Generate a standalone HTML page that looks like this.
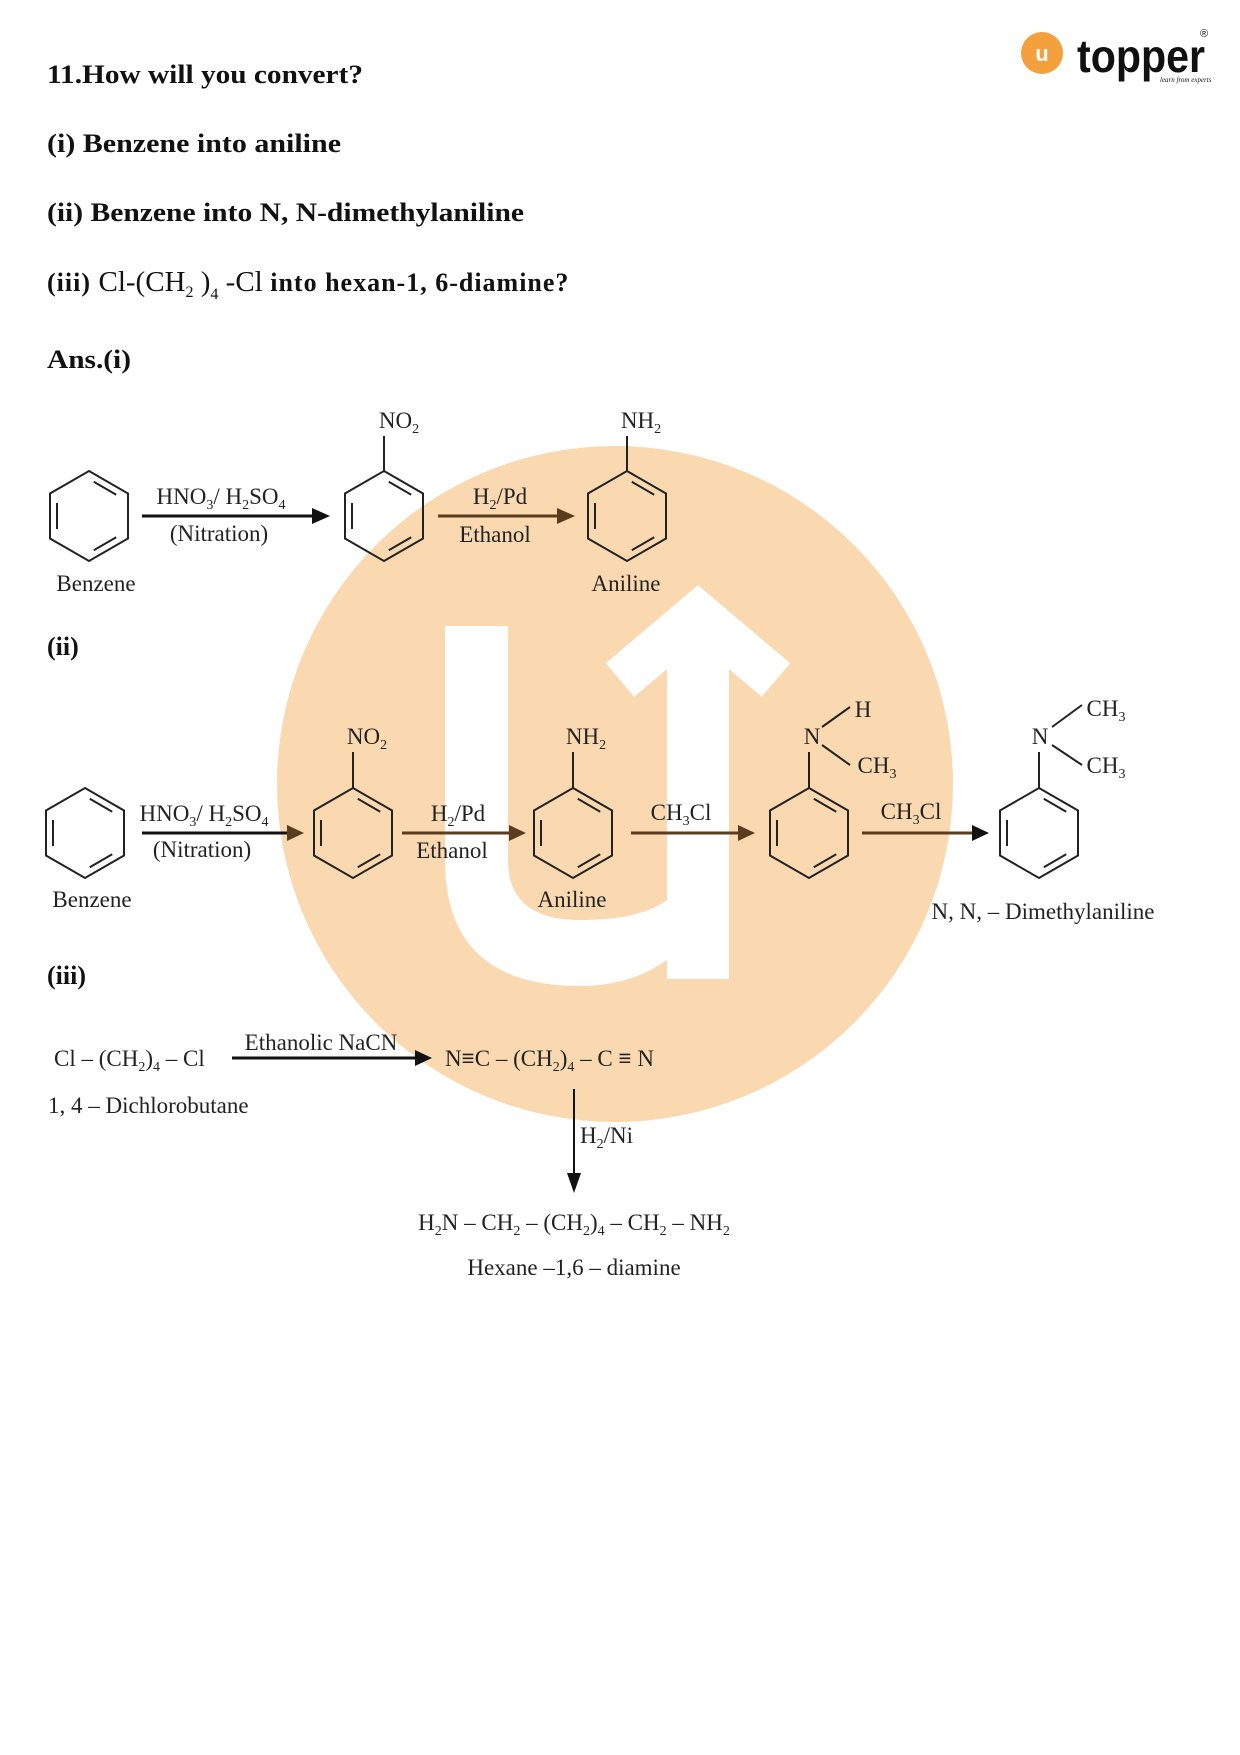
<!DOCTYPE html>
<html><head><meta charset="utf-8"><style>
html,body{margin:0;padding:0;background:#fff;}
svg{display:block;}
.h{font-family:"Liberation Serif",serif;font-weight:bold;font-size:26px;fill:#111;}
.t{font-family:"Liberation Serif",serif;font-size:23px;fill:#222;}
</style></head><body>
<svg width="1240" height="1755" viewBox="0 0 1240 1755" xmlns="http://www.w3.org/2000/svg">
<defs>
<g id="ring" fill="none" stroke="#222" stroke-width="2">
<polygon points="0,-45 39,-22.5 39,22.5 0,45 -39,22.5 -39,-22.5"/>
<line x1="4.8" y1="-34.2" x2="27.2" y2="-21.3"/>
<line x1="27.2" y1="21.3" x2="4.8" y2="34.2"/>
<line x1="-32" y1="13" x2="-32" y2="-13"/>
</g>
</defs>
<circle cx="615" cy="784" r="338" fill="#fad9b0"/>
<path d="M445 626 H508 V860 Q508 920 580 920 Q640 920 667 900 V640 H729 V979 H667 V960 Q630 986 580 986 Q445 986 445 860 Z" fill="#fff"/>
<polyline points="620,680 698,614 776,680" fill="none" stroke="#fff" stroke-width="44" stroke-linejoin="miter"/>
<circle cx="1042" cy="53" r="21" fill="#f4a13d"/>
<text x="1042" y="61" font-family="Liberation Sans,sans-serif" font-weight="bold" font-size="22" fill="#fff" text-anchor="middle">u</text>
<text x="1077" y="72" font-family="Liberation Sans,sans-serif" font-weight="bold" font-size="46" fill="#111" textLength="128" lengthAdjust="spacingAndGlyphs">topper</text>
<text x="1200" y="37" font-family="Liberation Sans,sans-serif" font-size="11" fill="#111">®</text>
<text x="1160" y="82" font-family="Liberation Serif,serif" font-style="italic" font-size="7" fill="#111">learn from experts</text>
<text class="h" x="47" y="83" textLength="316" lengthAdjust="spacingAndGlyphs">11.How will you convert?</text>
<text class="h" x="47" y="152" textLength="294" lengthAdjust="spacingAndGlyphs">(i) Benzene into aniline</text>
<text class="h" x="47" y="221" textLength="477" lengthAdjust="spacingAndGlyphs">(ii) Benzene into N, N-dimethylaniline</text>
<text class="h" x="47" y="291" letter-spacing="1">(iii) <tspan font-weight="normal" font-size="29" letter-spacing="0">Cl-(CH<tspan dy="6" font-size="16">2</tspan><tspan dy="-6"> )</tspan><tspan dy="8" font-size="16">4</tspan><tspan dy="-8"> -Cl</tspan></tspan> into hexan-1, 6-diamine?</text>
<text class="h" x="47" y="368" textLength="84" lengthAdjust="spacingAndGlyphs">Ans.(i)</text>
<use href="#ring" x="89" y="516"/>
<use href="#ring" x="384" y="516"/>
<use href="#ring" x="627" y="516"/>
<line x1="384" y1="471" x2="384" y2="436" stroke="#222" stroke-width="2"/>
<line x1="627" y1="471" x2="627" y2="436" stroke="#222" stroke-width="2"/>
<text class="t" x="399" y="428" text-anchor="middle">NO<tspan dy="5" font-size="14">2</tspan></text>
<text class="t" x="641" y="428" text-anchor="middle">NH<tspan dy="5" font-size="14">2</tspan></text>
<text class="t" x="96" y="591" text-anchor="middle">Benzene</text>
<text class="t" x="626" y="591" text-anchor="middle">Aniline</text>
<line x1="142" y1="516" x2="315" y2="516" stroke="#111" stroke-width="3"/>
<polygon points="330,516 312,508 312,524" fill="#111"/>
<text class="t" x="221" y="504" text-anchor="middle">HNO<tspan dy="5" font-size="14">3</tspan><tspan dy="-5">/ H</tspan><tspan dy="5" font-size="14">2</tspan><tspan dy="-5">SO</tspan><tspan dy="5" font-size="14">4</tspan></text>
<text class="t" x="219" y="541" text-anchor="middle">(Nitration)</text>
<line x1="438" y1="516" x2="560" y2="516" stroke="#5a3d1e" stroke-width="3"/>
<polygon points="575,516 557,508 557,524" fill="#5a3d1e"/>
<text class="t" x="500" y="504" text-anchor="middle">H<tspan dy="5" font-size="14">2</tspan><tspan dy="-5">/Pd</tspan></text>
<text class="t" x="495" y="542" text-anchor="middle">Ethanol</text>
<text class="h" x="47" y="655">(ii)</text>
<use href="#ring" x="85" y="833"/>
<use href="#ring" x="353" y="833"/>
<use href="#ring" x="573" y="833"/>
<use href="#ring" x="809" y="833"/>
<use href="#ring" x="1039" y="833"/>
<g stroke="#222" stroke-width="2">
<line x1="353" y1="788" x2="353" y2="752"/>
<line x1="573" y1="788" x2="573" y2="752"/>
<line x1="809" y1="788" x2="809" y2="752"/>
<line x1="1039" y1="788" x2="1039" y2="752"/>
<line x1="822" y1="727" x2="850" y2="707"/>
<line x1="822" y1="745" x2="850" y2="765"/>
<line x1="1052" y1="727" x2="1082" y2="705"/>
<line x1="1052" y1="745" x2="1082" y2="765"/>
</g>
<text class="t" x="367" y="744" text-anchor="middle">NO<tspan dy="5" font-size="14">2</tspan></text>
<text class="t" x="586" y="744" text-anchor="middle">NH<tspan dy="5" font-size="14">2</tspan></text>
<text class="t" x="812" y="744" text-anchor="middle">N</text>
<text class="t" x="863" y="717" text-anchor="middle">H</text>
<text class="t" x="877" y="773" text-anchor="middle">CH<tspan dy="5" font-size="14">3</tspan></text>
<text class="t" x="1040" y="744" text-anchor="middle">N</text>
<text class="t" x="1106" y="716" text-anchor="middle">CH<tspan dy="5" font-size="14">3</tspan></text>
<text class="t" x="1106" y="773" text-anchor="middle">CH<tspan dy="5" font-size="14">3</tspan></text>
<text class="t" x="92" y="907" text-anchor="middle">Benzene</text>
<text class="t" x="572" y="907" text-anchor="middle">Aniline</text>
<text class="t" x="1043" y="919" text-anchor="middle">N, N, – Dimethylaniline</text>
<line x1="142" y1="833" x2="290" y2="833" stroke="#111" stroke-width="3"/>
<polygon points="304,833 287,825 287,841" fill="#5a3d1e"/>
<text class="t" x="204" y="821" text-anchor="middle">HNO<tspan dy="5" font-size="14">3</tspan><tspan dy="-5">/ H</tspan><tspan dy="5" font-size="14">2</tspan><tspan dy="-5">SO</tspan><tspan dy="5" font-size="14">4</tspan></text>
<text class="t" x="202" y="857" text-anchor="middle">(Nitration)</text>
<line x1="402" y1="833" x2="512" y2="833" stroke="#5a3d1e" stroke-width="3"/>
<polygon points="526,833 509,825 509,841" fill="#5a3d1e"/>
<text class="t" x="458" y="821" text-anchor="middle">H<tspan dy="5" font-size="14">2</tspan><tspan dy="-5">/Pd</tspan></text>
<text class="t" x="452" y="858" text-anchor="middle">Ethanol</text>
<line x1="631" y1="833" x2="741" y2="833" stroke="#5a3d1e" stroke-width="3"/>
<polygon points="755,833 738,825 738,841" fill="#5a3d1e"/>
<text class="t" x="681" y="820" text-anchor="middle">CH<tspan dy="5" font-size="14">3</tspan><tspan dy="-5">Cl</tspan></text>
<line x1="862" y1="833" x2="975" y2="833" stroke="#5a3d1e" stroke-width="3"/>
<polygon points="989,833 972,825 972,841" fill="#111"/>
<text class="t" x="911" y="819" text-anchor="middle">CH<tspan dy="5" font-size="14">3</tspan><tspan dy="-5">Cl</tspan></text>
<text class="h" x="47" y="984">(iii)</text>
<text class="t" x="54" y="1066">Cl – (CH<tspan dy="5" font-size="14">2</tspan><tspan dy="-5">)</tspan><tspan dy="5" font-size="14">4</tspan><tspan dy="-5"> – Cl</tspan></text>
<text class="t" x="48" y="1113">1, 4 – Dichlorobutane</text>
<line x1="232" y1="1058" x2="418" y2="1058" stroke="#111" stroke-width="3"/>
<polygon points="432,1058 415,1050 415,1066" fill="#111"/>
<text class="t" x="321" y="1050" text-anchor="middle">Ethanolic NaCN</text>
<text class="t" x="445" y="1066">N<tspan font-weight="bold">≡</tspan>C – (CH<tspan dy="5" font-size="14">2</tspan><tspan dy="-5">)</tspan><tspan dy="5" font-size="14">4</tspan><tspan dy="-5"> – C </tspan><tspan font-weight="bold">≡</tspan> N</text>
<line x1="574" y1="1089" x2="574" y2="1175" stroke="#111" stroke-width="2"/>
<polygon points="574,1193 567,1173 581,1173" fill="#111"/>
<text class="t" x="580" y="1143">H<tspan dy="5" font-size="14">2</tspan><tspan dy="-5">/Ni</tspan></text>
<text class="t" x="574" y="1230" text-anchor="middle">H<tspan dy="5" font-size="14">2</tspan><tspan dy="-5">N – CH</tspan><tspan dy="5" font-size="14">2</tspan><tspan dy="-5"> – (CH</tspan><tspan dy="5" font-size="14">2</tspan><tspan dy="-5">)</tspan><tspan dy="5" font-size="14">4</tspan><tspan dy="-5"> – CH</tspan><tspan dy="5" font-size="14">2</tspan><tspan dy="-5"> – NH</tspan><tspan dy="5" font-size="14">2</tspan></text>
<text class="t" x="574" y="1275" text-anchor="middle">Hexane –1,6 – diamine</text>
</svg>
</body></html>
